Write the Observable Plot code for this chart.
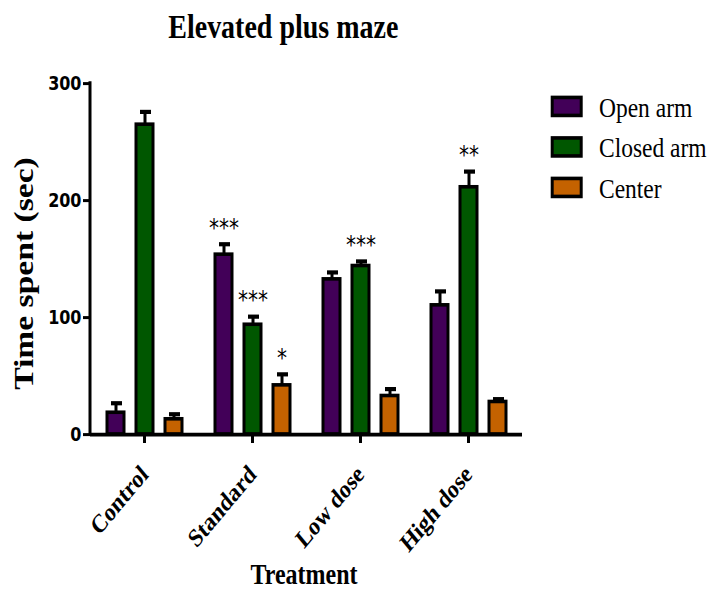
<!DOCTYPE html>
<html>
<head>
<meta charset="utf-8">
<script src="https://cdn.jsdelivr.net/npm/d3@7"></script>
<script src="https://cdn.jsdelivr.net/npm/@observablehq/plot@0.6"></script>
<style>
  body { margin: 0; background: #fff; }
</style>
</head>
<body>
<div id="chart"></div>
<script>
// Time spent in each zone of the elevated plus maze (mean ± SEM, seconds)
const treatments = ["Control", "Standard", "Low dose", "High dose"];
const series = ["Open arm", "Closed arm", "Center"];
const colors = ["#420058", "#005700", "#c46200"];

const openArm = [18.6, 153.7, 132.6, 110.4];
const openArmSem = [8.2, 9, 6, 12];
const closedArm = [264.8, 93.8, 144, 211.3];
const closedArmSem = [11, 7, 4, 13.5];
const center = [13, 42, 32.9, 27.8];
const centerSem = [4.4, 9.5, 6, 2.5];

const openArmSig = ["", "***", "", ""];
const closedArmSig = ["", "***", "***", "**"];
const centerSig = ["", "*", "", ""];

const yTicks = [0, 100, 200, 300];

const means = [openArm, closedArm, center];
const sems = [openArmSem, closedArmSem, centerSem];
const sigs = [openArmSig, closedArmSig, centerSig];
const rows = treatments.flatMap((t, i) => series.map((s, j) => ({
  treatment: t,
  series: s,
  mean: means[j][i],
  top: means[j][i] + sems[j][i],
  sig: sigs[j][i]
})));

// The figure is laid out in a frame 1.2× shorter and then stretched vertically.
const W = 713, H = 590, stretch = 1.2, H0 = H / stretch;
const serif = "'Liberation Serif', 'Times New Roman', serif";
const sans = "'DejaVu Sans', sans-serif";
const marginTop = 83 / stretch;
const marginBottom = H0 - 434 / stretch;
const marginLeft = 90;
const marginRight = 191;

const chart = Plot.plot({
  width: W,
  height: H0,
  marginTop, marginBottom, marginLeft, marginRight,
  style: {background: "white", fontFamily: serif, overflow: "visible"},
  fx: {domain: treatments, padding: 0},
  x: {domain: series, paddingInner: 0.414, paddingOuter: 0.569, axis: null},
  y: {domain: [0, 300]},
  color: {domain: series, range: colors},
  marks: [
    Plot.axisY({ticks: yTicks, tickSize: 7, tickPadding: 2, strokeWidth: 2.5,
      fontSize: 16, fontWeight: "bold", fontFamily: sans,
      label: null, tickFormat: d => String(d)}),
    Plot.axisFx({anchor: "bottom", tickSize: 7.5, strokeWidth: 3, tickRotate: -45,
      tickPadding: 22, dx: 0, fontSize: 21.5, fontWeight: "bold", fontFamily: serif,
      label: null}),
    Plot.ruleX(rows, {fx: "treatment", x: "series", y1: "mean", y2: "top", strokeWidth: 3}),
    Plot.tickY(rows, {fx: "treatment", x: "series", y: "top", strokeWidth: 3.5, insetLeft: 4, insetRight: 2}),
    Plot.barY(rows, {fx: "treatment", x: "series", y: "mean", fill: "series", stroke: "black", strokeWidth: 3}),
    Plot.ruleY([0], {strokeWidth: 3}),
    Plot.text(rows, {fx: "treatment", x: "series", y: "top", text: "sig", dy: -7,
      lineAnchor: "bottom", fontSize: 20, fontFamily: sans, fill: "black"})
  ]
});

const svg = d3.select(chart);
const y = chart.scale("y");

// vertical y-axis line
svg.append("line")
  .attr("x1", marginLeft).attr("x2", marginLeft)
  .attr("y1", y.apply(0)).attr("y2", y.apply(300))
  .attr("stroke", "black").attr("stroke-width", 3).attr("stroke-linecap", "square");

// title
svg.append("text")
  .attr("x", 283.3).attr("y", 31.9)
  .attr("text-anchor", "middle")
  .attr("font-family", serif).attr("font-weight", "bold").attr("font-size", 28)
  .text("Elevated plus maze");

// y-axis title
svg.append("text")
  .attr("transform", `translate(33,${273.5 / stretch}) rotate(-90)`)
  .attr("text-anchor", "middle")
  .attr("font-family", serif).attr("font-weight", "bold").attr("font-size", 28)
  .text("Time spent (sec)");

// x-axis title
svg.append("text")
  .attr("x", 304).attr("y", 584 / stretch)
  .attr("text-anchor", "middle")
  .attr("font-family", serif).attr("font-weight", "bold").attr("font-size", 24)
  .text("Treatment");

// legend
const legend = svg.append("g").attr("text-anchor", "start");
series.forEach((s, i) => {
  const row = legend.append("g").attr("transform", `translate(0,${i * 33.75})`);
  row.append("rect")
    .attr("x", 552.2).attr("y", 81.2).attr("width", 29).attr("height", 15)
    .attr("fill", colors[i]).attr("stroke", "black").attr("stroke-width", 3);
  row.append("text")
    .attr("x", 599).attr("y", 97.2)
    .attr("text-anchor", "start")
    .attr("font-family", serif).attr("font-size", 23.5)
    .text(s);
});

chart.setAttribute("height", H);
chart.setAttribute("preserveAspectRatio", "none");
chart.style.width = W + "px";
chart.style.height = H + "px";
chart.style.maxWidth = "none";

document.getElementById("chart").appendChild(chart);
</script>
</body>
</html>
